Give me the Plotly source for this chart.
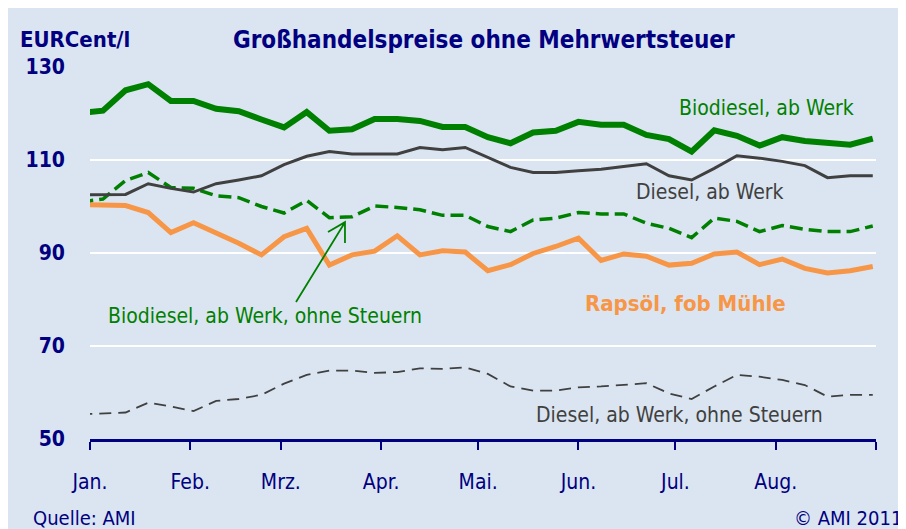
import pandas as pd
import plotly.graph_objects as go

# ---- data (EURCent/l, weekly, 2011) ----
weeks = pd.date_range("2010-12-29", periods=36, freq="7D")

biodiesel = [120.1, 120.6, 125.0, 126.3, 122.7, 122.7, 121.0, 120.5, 118.7, 117.0,
             120.3, 116.3, 116.6, 118.8, 118.8, 118.4, 117.1, 117.1, 114.9, 113.6,
             115.9, 116.3, 118.2, 117.6, 117.6, 115.4, 114.5, 111.8, 116.4, 115.2,
             113.1, 114.9, 114.1, 113.6, 113.3, 114.6]
diesel = [102.5, 102.6, 102.6, 104.9, 103.9, 103.1, 104.9, 105.7, 106.6, 109.0,
          110.8, 111.8, 111.3, 111.3, 111.3, 112.7, 112.2, 112.7, 110.6, 108.4,
          107.3, 107.3, 107.7, 108.0, 108.6, 109.2, 106.6, 105.7, 108.2, 110.9,
          110.4, 109.7, 108.8, 106.2, 106.6, 106.6]
biodiesel_ns = [101.0, 101.6, 105.6, 107.3, 104.1, 103.9, 102.3, 101.9, 100.0, 98.6,
                101.3, 97.6, 97.8, 100.1, 99.8, 99.3, 98.1, 98.1, 95.7, 94.6,
                97.1, 97.5, 98.7, 98.4, 98.4, 96.4, 95.3, 93.3, 97.5, 96.8,
                94.6, 95.9, 95.1, 94.6, 94.6, 95.8]
rapsoel = [100.4, 100.3, 100.2, 98.7, 94.4, 96.5, 94.4, 92.1, 89.6, 93.5,
           95.3, 87.4, 89.6, 90.4, 93.7, 89.6, 90.5, 90.2, 86.2, 87.5,
           89.9, 91.4, 93.2, 88.4, 89.8, 89.3, 87.4, 87.8, 89.8, 90.2,
           87.5, 88.7, 86.7, 85.7, 86.2, 87.1]
diesel_ns = [55.3, 55.5, 55.7, 57.8, 57.0, 56.0, 58.2, 58.6, 59.5, 61.9,
             63.8, 64.7, 64.7, 64.2, 64.4, 65.2, 65.1, 65.4, 64.0, 61.3,
             60.4, 60.4, 61.1, 61.3, 61.6, 62.0, 59.8, 58.6, 61.3, 63.8,
             63.4, 62.7, 61.6, 59.1, 59.5, 59.5]

month_starts = ["2011-01-01", "2011-02-01", "2011-03-01", "2011-04-01", "2011-05-01",
                "2011-06-01", "2011-07-01", "2011-08-01", "2011-09-01"]
month_labels = ["Jan.", "Feb.", "Mrz.", "Apr.", "Mai.", "Jun.", "Jul.", "Aug.", ""]
y_ticks = [50, 70, 90, 110, 130]

# ---- style ----
FONT = "DejaVu Sans Condensed, DejaVu Sans, sans-serif"
NAVY = "#000080"
GREEN = "#008000"
GREY = "#404040"
ORANGE = "#F79646"
BG = "#DBE5F1"

fig = go.Figure()
fig.add_trace(go.Scatter(x=weeks, y=diesel_ns, mode="lines",
                         line=dict(color=GREY, width=1.8, dash="12px,7px")))
fig.add_trace(go.Scatter(x=weeks, y=rapsoel, mode="lines",
                         line=dict(color=ORANGE, width=5)))
fig.add_trace(go.Scatter(x=weeks, y=biodiesel_ns, mode="lines",
                         line=dict(color=GREEN, width=3.5, dash="13px,6px")))
fig.add_trace(go.Scatter(x=weeks, y=diesel, mode="lines",
                         line=dict(color=GREY, width=3)))
fig.add_trace(go.Scatter(x=weeks, y=biodiesel, mode="lines",
                         line=dict(color=GREEN, width=6)))

# background panel
fig.add_shape(type="rect", xref="paper", yref="paper",
              x0=-0.2, x1=1.2, y0=-0.4, y1=1.3,
              fillcolor=BG, line=dict(width=0), layer="below")

# arrow to the dashed biodiesel line
fig.add_shape(type="path", xref="paper", yref="paper",
              path="M 0.2621 0.3681 L 0.3244 0.5829 M 0.3028 0.5565 L 0.3244 0.5829 L 0.3244 0.5269",
              line=dict(color=GREEN, width=1.8))

def ann(text, x, y, color, size, xanchor="center", bold=False):
    fig.add_annotation(text=f"<b>{text}</b>" if bold else text,
                       x=x, y=y, xref="paper", yref="paper",
                       xanchor=xanchor, yanchor="middle", showarrow=False,
                       font=dict(family=FONT, size=size, color=color))

ann("Großhandelspreise ohne Mehrwertsteuer", 0.5013, 1.0735, NAVY, 24, bold=True)
ann("EURCent/l", -0.0916, 1.0735, NAVY, 22, xanchor="left", bold=True)
ann("Biodiesel, ab Werk", 0.8613, 0.8901, GREEN, 21)
ann("Diesel, ab Werk", 0.7888, 0.6642, GREY, 21)
ann("Biodiesel, ab Werk, ohne Steuern", 0.2226, 0.3304, GREEN, 21)
ann("Rapsöl, fob Mühle", 0.7570, 0.3654, ORANGE, 22, bold=True)
ann("Diesel, ab Werk, ohne Steuern", 0.7506, 0.0638, GREY, 21)
ann("Quelle: AMI", -0.0751, -0.2111, NAVY, 20, xanchor="left")
ann("© AMI 2011", 1.0360, -0.2111, NAVY, 20, xanchor="right")

fig.update_xaxes(type="date", range=["2011-01-01", "2011-09-01"],
                 tickmode="array", tickvals=month_starts, ticktext=month_labels,
                 showgrid=False, zeroline=False,
                 showline=True, linecolor=NAVY, linewidth=2.5,
                 ticks="outside", ticklen=8, tickwidth=2, tickcolor=NAVY,
                 tickfont=dict(family=FONT, size=21, color=NAVY),
                 ticklabelstandoff=14)
fig.update_yaxes(range=[50, 130], tickmode="array", tickvals=y_ticks,
                 showgrid=True, gridcolor="white", gridwidth=2,
                 zeroline=False, showline=False, ticks="",
                 tickfont=dict(family=FONT, size=21, color=NAVY, weight="bold"),
                 ticklabelstandoff=24)

# the page adds an 8 px body margin, so the figure is 8 px smaller and
# the left/top margins are reduced accordingly
fig.update_layout(width=898, height=521,
                  margin=dict(l=82, r=30, t=59, b=90),
                  paper_bgcolor=BG, plot_bgcolor="rgba(0,0,0,0)",
                  showlegend=False, font=dict(family=FONT, color=NAVY),
                  hovermode=False)

fig.write_html("out.html")
